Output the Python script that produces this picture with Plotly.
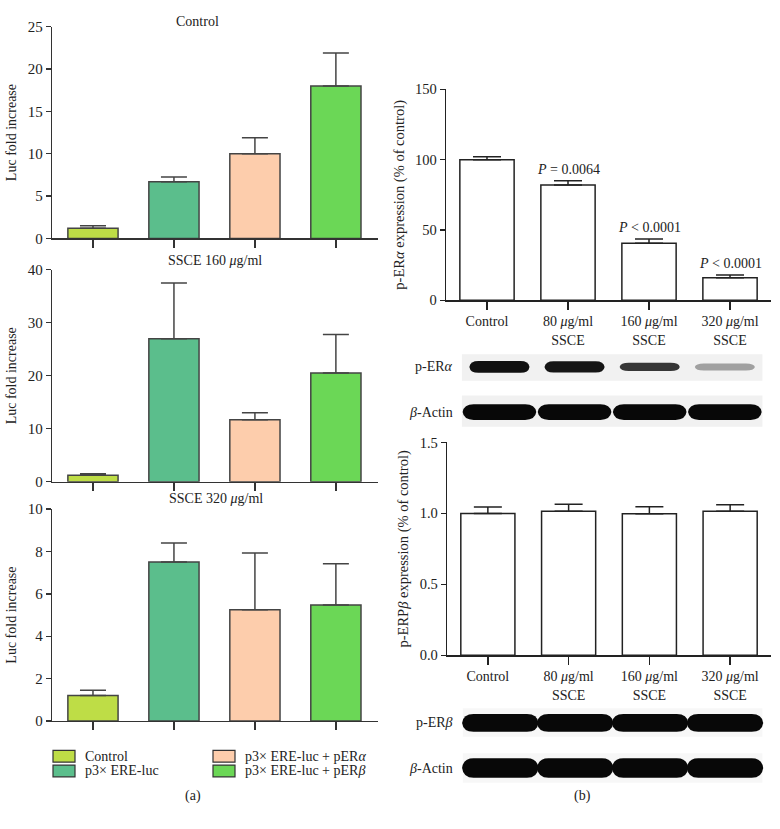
import plotly.graph_objects as go

W, H = 780, 829

# ---------------- data ----------------
groups_a = ["Control", "p3× ERE-luc", "p3× ERE-luc + pERα", "p3× ERE-luc + pERβ"]
legend_text = ["Control", "p3× ERE-luc", "p3× ERE-luc + pER<i>α</i>", "p3× ERE-luc + pER<i>β</i>"]
bar_colors = ["#bedd46", "#5bbe8c", "#fdcdac", "#6bd756"]

ctrl_vals = [1.2, 6.7, 10.0, 18.0]
ctrl_tops = [1.5, 7.25, 11.9, 21.9]
s160_vals = [1.2, 27.0, 11.7, 20.5]
s160_tops = [1.5, 37.5, 13.0, 27.8]
s320_vals = [1.2, 7.5, 5.25, 5.48]
s320_tops = [1.45, 8.4, 7.93, 7.42]

groups_b = ["Control", "80 μg/ml SSCE", "160 μg/ml SSCE", "320 μg/ml SSCE"]
ticks_b = ["Control", "80 <i>μ</i>g/ml<br>SSCE", "160 <i>μ</i>g/ml<br>SSCE", "320 <i>μ</i>g/ml<br>SSCE"]
era_vals = [100, 82, 40.5, 16]
era_tops = [102, 85, 43.5, 18]
era_p = ["", "<i>P</i> = 0.0064", "<i>P</i> < 0.0001", "<i>P</i> < 0.0001"]
erb_vals = [1.0, 1.015, 0.998, 1.015]
erb_tops = [1.045, 1.065, 1.047, 1.06]

# blot band intensities (0..1) and relative thickness
blot_era = [0.97, 0.95, 0.8, 0.35]
blot_era_thick = [1.0, 0.95, 0.7, 0.6]
blot_actin1 = [1.0, 1.0, 1.0, 1.0]
blot_erb = [1.0, 1.0, 1.0, 1.0]
blot_actin2 = [1.0, 1.0, 1.0, 1.0]

FONT = "Liberation Serif"
TXT = "#222"


def px(x):
    return x / W


def py(y):
    return 1 - y / H


fig = go.Figure()


def add_bars(vals, tops, xa, ya, cats, fill, line_col, cap, bw):
    fig.add_trace(go.Bar(
        x=cats, y=vals, xaxis=xa, yaxis=ya, width=bw,
        marker=dict(color=fill, line=dict(color=line_col, width=1.5)),
        error_y=dict(type="data", symmetric=False,
                     array=[t - v for t, v in zip(tops, vals)],
                     arrayminus=[0] * len(vals), color=line_col,
                     thickness=1.5, width=cap),
        showlegend=False, hoverinfo="skip"))


add_bars(ctrl_vals, ctrl_tops, "x", "y", groups_a, bar_colors, "#444", 13, 0.62)
add_bars(s160_vals, s160_tops, "x2", "y2", groups_a, bar_colors, "#444", 13, 0.62)
add_bars(s320_vals, s320_tops, "x3", "y3", groups_a, bar_colors, "#444", 13, 0.62)
add_bars(era_vals, era_tops, "x4", "y4", groups_b, "white", "#222", 14, 0.67)
add_bars(erb_vals, erb_tops, "x5", "y5", groups_b, "white", "#222", 14, 0.67)

axis_common = dict(showline=True, linewidth=1.3, showgrid=False, zeroline=False,
                   ticks="outside", tickwidth=1.3)

layout = dict(width=W, height=H, margin=dict(l=0, r=0, t=0, b=0),
              paper_bgcolor="white", plot_bgcolor="white",
              font=dict(family=FONT, color=TXT), hovermode=False)

# left panels
left_specs = [("", 19, 235, 25, 5), ("2", 267, 483, 40, 10), ("3", 511, 727, 10, 2)]
for suf, ytop, ybot, ymax, dt in left_specs:
    layout["xaxis" + suf] = dict(axis_common, domain=[px(52), px(378)], range=[-0.506, 3.52],
                                 anchor="y" + suf, linecolor="#333", tickcolor="#333",
                                 ticklen=8, tickvals=groups_a, ticktext=[""] * 4)
    layout["yaxis" + suf] = dict(axis_common, domain=[py(ybot), py(ytop)], range=[0, ymax],
                                 dtick=dt, anchor="x" + suf, linecolor="#333", tickcolor="#333",
                                 ticklen=5, tickfont=dict(family=FONT, size=15, color=TXT),
                                 title=dict(text="Luc fold increase", standoff=7,
                                            font=dict(family=FONT, size=14, color=TXT)))

# right panels
xtickfont = dict(family=FONT, size=14, color=TXT)
ytickfont = dict(family=FONT, size=14.5, color=TXT)
layout["xaxis4"] = dict(axis_common, domain=[px(446), px(771)], range=[-0.506, 3.506],
                        anchor="y4", linecolor="#222", tickcolor="#222", ticklen=8,
                        tickvals=groups_b, ticktext=ticks_b, tickfont=xtickfont)
layout["yaxis4"] = dict(axis_common, domain=[py(298), py(83)], range=[0, 150], dtick=50,
                        anchor="x4", linecolor="#222", tickcolor="#222", ticklen=5,
                        tickfont=ytickfont,
                        title=dict(text="p-ER<i>α</i> expression (% of control)", standoff=7,
                                   font=dict(family=FONT, size=14.5, color=TXT)))
layout["xaxis5"] = dict(axis_common, domain=[px(447), px(771)], range=[-0.506, 3.506],
                        anchor="y5", linecolor="#222", tickcolor="#222", ticklen=8,
                        tickvals=groups_b, ticktext=ticks_b, tickfont=xtickfont)
layout["yaxis5"] = dict(axis_common, domain=[py(660), py(443)], range=[0, 1.5], dtick=0.5,
                        tickformat=".1f", anchor="x5", linecolor="#222", tickcolor="#222",
                        ticklen=5, tickfont=ytickfont,
                        title=dict(text="p-ERP<i>β</i> expression (% of control)", standoff=7,
                                   font=dict(family=FONT, size=14.5, color=TXT)))

annotations = []
shapes = []


def ann(text, x, y, xanchor="center", size=14, **kw):
    annotations.append(dict(text=text, x=x, y=y, xref="paper", yref="paper",
                            xanchor=xanchor, yanchor="middle", showarrow=False,
                            font=dict(family=FONT, size=size, color=TXT), **kw))


# panel titles
ann("Control", px(197), py(14))
ann("SSCE 160 <i>μ</i>g/ml", px(215), py(257))
ann("SSCE 320 <i>μ</i>g/ml", px(216), py(500))
ann("(a)", px(193), py(803))
ann("(b)", px(582), py(803))

# P-value annotations
for i, (t, top) in enumerate(zip(era_p, era_tops)):
    if t:
        annotations.append(dict(text=t, x=groups_b[i], y=top, xref="x4", yref="y4",
                                yanchor="bottom", yshift=2, showarrow=False,
                                font=dict(family=FONT, size=14, color=TXT)))

# legend (manual, two columns)
leg_pos = [(53, 763), (53, 778), (213, 763), (213, 778)]
for (lx, ly), col, txt in zip(leg_pos, bar_colors, legend_text):
    shapes.append(dict(type="rect", xref="paper", yref="paper",
                       x0=px(lx), x1=px(lx + 22), y0=py(ly + 6), y1=py(ly - 6),
                       fillcolor=col, line=dict(color="#333", width=1.2)))
    ann(txt, px(lx + 30), py(ly), xanchor="left")


# western blots
def band_path(xc, half_w, yc, half_h):
    x0, x1 = xc - half_w, xc + half_w
    yt, yb = yc + half_h, yc - half_h
    k = half_w * 0.3
    return (f"M {x0},{yc} Q {x0 + 0.03 * half_w},{yt} {x0 + k},{yt} "
            f"L {x1 - k},{yt} Q {x1 - 0.03 * half_w},{yt} {x1},{yc} "
            f"Q {x1 - 0.03 * half_w},{yb} {x1 - k},{yb} "
            f"L {x0 + k},{yb} Q {x0 + 0.03 * half_w},{yb} {x0},{yc} Z")


BLOT_X0, BLOT_X1 = -0.31, 3.40   # blot strip extent in category units


def blot_row(xref, intens, thick, yc_px, half_h_px, half_w, bg_top, bg_bot, label, bg):
    shapes.append(dict(type="rect", xref=xref, yref="paper", x0=BLOT_X0, x1=BLOT_X1,
                       y0=py(bg_bot), y1=py(bg_top), fillcolor=bg, line=dict(width=0),
                       layer="below"))
    lane_w = (BLOT_X1 - BLOT_X0) / len(intens)
    for i, (a, t) in enumerate(zip(intens, thick)):
        xc = BLOT_X0 + lane_w * (i + 0.5)
        shapes.append(dict(type="path", xref=xref, yref="paper",
                           path=band_path(xc, half_w * lane_w, py(yc_px), half_h_px * t / H),
                           fillcolor=f"rgba(8,8,8,{a})", line=dict(width=0)))
    ann(label, px(455), py(yc_px), xanchor="right")


blot_row("x4", blot_era, blot_era_thick, 366, 6, 0.40, 353, 380, "p-ER<i>α</i>", "#f1f1f1")
blot_row("x4", blot_actin1, [1] * 4, 412, 8, 0.49, 395, 427, "<i>β</i>-Actin", "#f1f1f1")
blot_row("x5", blot_erb, [1] * 4, 729, 9, 0.51, 714, 743, "p-ER<i>β</i>", "#f7f7f7")
blot_row("x5", blot_actin2, [1] * 4, 775, 10, 0.51, 760, 790, "<i>β</i>-Actin", "#f7f7f7")

layout["annotations"] = annotations
layout["shapes"] = shapes
fig.update_layout(**layout)

fig.write_html("out.html", config={"displayModeBar": False, "staticPlot": True},
               post_script="document.body.style.margin='0';document.body.style.overflow='hidden';")
